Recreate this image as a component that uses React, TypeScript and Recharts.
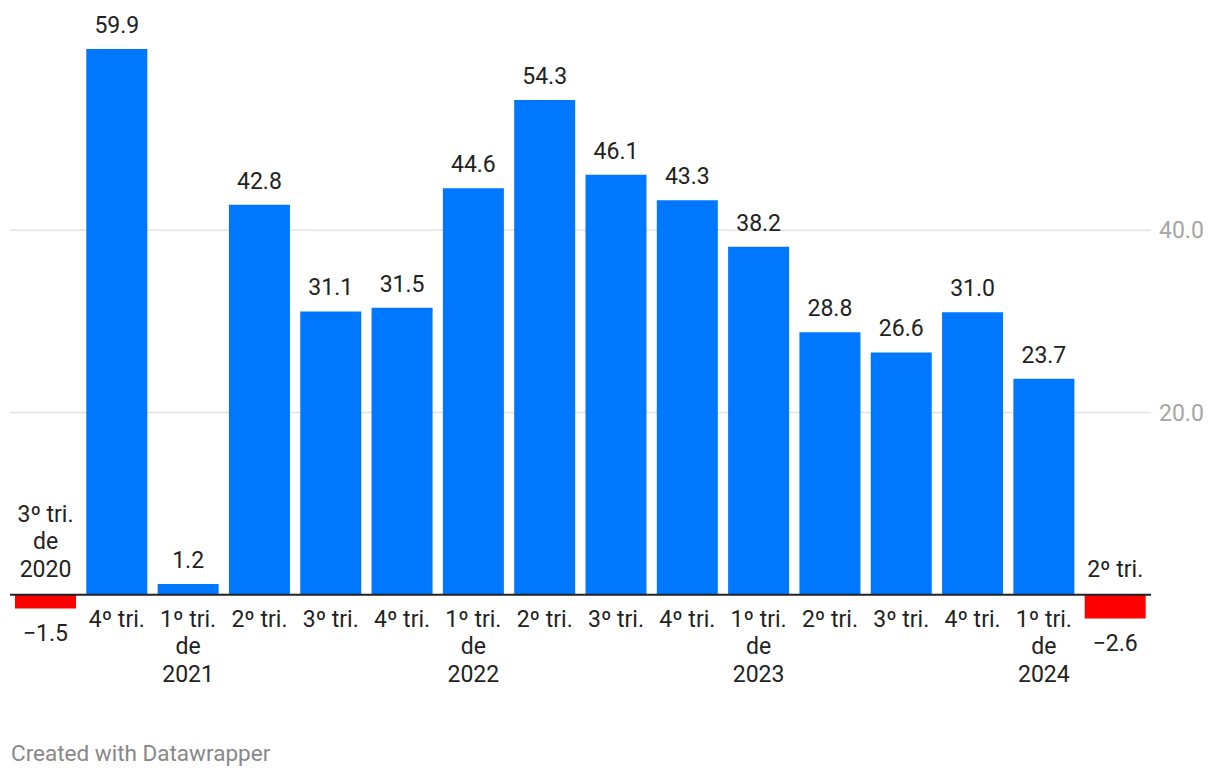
import React from 'react';
import {
  BarChart,
  Bar,
  XAxis,
  YAxis,
  CartesianGrid,
  ReferenceLine,
  LabelList,
  Cell,
} from 'recharts';

const categories = [
  '3º tri. de 2020',
  '4º tri.',
  '1º tri. de 2021',
  '2º tri.',
  '3º tri.',
  '4º tri.',
  '1º tri. de 2022',
  '2º tri.',
  '3º tri.',
  '4º tri.',
  '1º tri. de 2023',
  '2º tri.',
  '3º tri.',
  '4º tri.',
  '1º tri. de 2024',
  '2º tri.',
];

const values = [-1.5, 59.9, 1.2, 42.8, 31.1, 31.5, 44.6, 54.3, 46.1, 43.3, 38.2, 28.8, 26.6, 31.0, 23.7, -2.6];

const yTicks = [20, 40];

const data = categories.map((category, i) => ({ category, value: values[i] }));

const FONT = 'Roboto, sans-serif';
const BLUE = '#0077ff';
const RED = '#ff0000';
const TEXT = '#222222';
const FS = 23;

const fmt = (v: number) => (v < 0 ? '\u2212' + Math.abs(v).toFixed(1) : v.toFixed(1));

const splitLines = (c: string) => {
  const i = c.indexOf(' de ');
  if (i < 0) return [c];
  return [c.slice(0, i), 'de', c.slice(i + 4)];
};

function ValueLabel(props: any) {
  const { x, y, width, height, value } = props;
  const top = Math.min(y, y + height);
  const bottom = Math.max(y, y + height);
  const cx = x + width / 2;
  const ty = value < 0 ? bottom + 32 : top - 16;
  return (
    <text x={cx} y={ty} textAnchor="middle" fill={TEXT} fontSize={FS} fontFamily={FONT}>
      {fmt(value)}
    </text>
  );
}

function CategoryLabel(props: any) {
  const { x, y, width, height, index } = props;
  const neg = values[index] < 0;
  const zero = neg ? Math.min(y, y + height) : Math.max(y, y + height);
  const lines = splitLines(categories[index]);
  const cx = x + width / 2;
  const lh = 27.5;
  return (
    <text textAnchor="middle" fill={TEXT} fontSize={FS} fontFamily={FONT}>
      {lines.map((l, i) => {
        const ly = neg ? zero - 18 - (lines.length - 1 - i) * lh : zero + 32 + i * lh;
        return (
          <tspan key={i} x={cx} y={ly}>
            {l}
          </tspan>
        );
      })}
    </text>
  );
}

export default function App() {
  return (
    <div style={{ position: 'absolute', left: 0, top: 0, width: 1220, height: 776, background: '#fff' }}>
      <BarChart
        width={1220}
        height={720}
        data={data}
        margin={{ top: 48, right: 9, left: 10, bottom: 34 }}
        barCategoryGap={5}
      >
        <CartesianGrid
          horizontal
          vertical={false}
          horizontalValues={yTicks}
          stroke="#e3e3e3"
          strokeWidth={1.5}
        />
        <XAxis dataKey="category" hide />
        <YAxis
          orientation="right"
          domain={[-10, 60]}
          ticks={yTicks}
          width={60}
          axisLine={false}
          tickLine={false}
          tickSize={0}
          tickMargin={8}
          tickFormatter={(v) => Number(v).toFixed(1)}
          tick={{ fontSize: FS, fill: '#a6a6a6', fontFamily: FONT }}
        />
        <Bar dataKey="value" isAnimationActive={false}>
          {data.map((d, i) => (
            <Cell key={`cell-${i}`} fill={d.value < 0 ? RED : BLUE} />
          ))}
          <LabelList dataKey="value" content={ValueLabel} />
          <LabelList dataKey="category" content={CategoryLabel} />
        </Bar>
        <ReferenceLine y={0} stroke="#222" strokeWidth={2} />
      </BarChart>
      <svg width={1220} height={56} style={{ position: 'absolute', left: 0, top: 720 }}>
        <text x={11} y={41} fill="#888" fontSize={22.5} fontFamily={FONT}>
          Created with Datawrapper
        </text>
      </svg>
    </div>
  );
}
